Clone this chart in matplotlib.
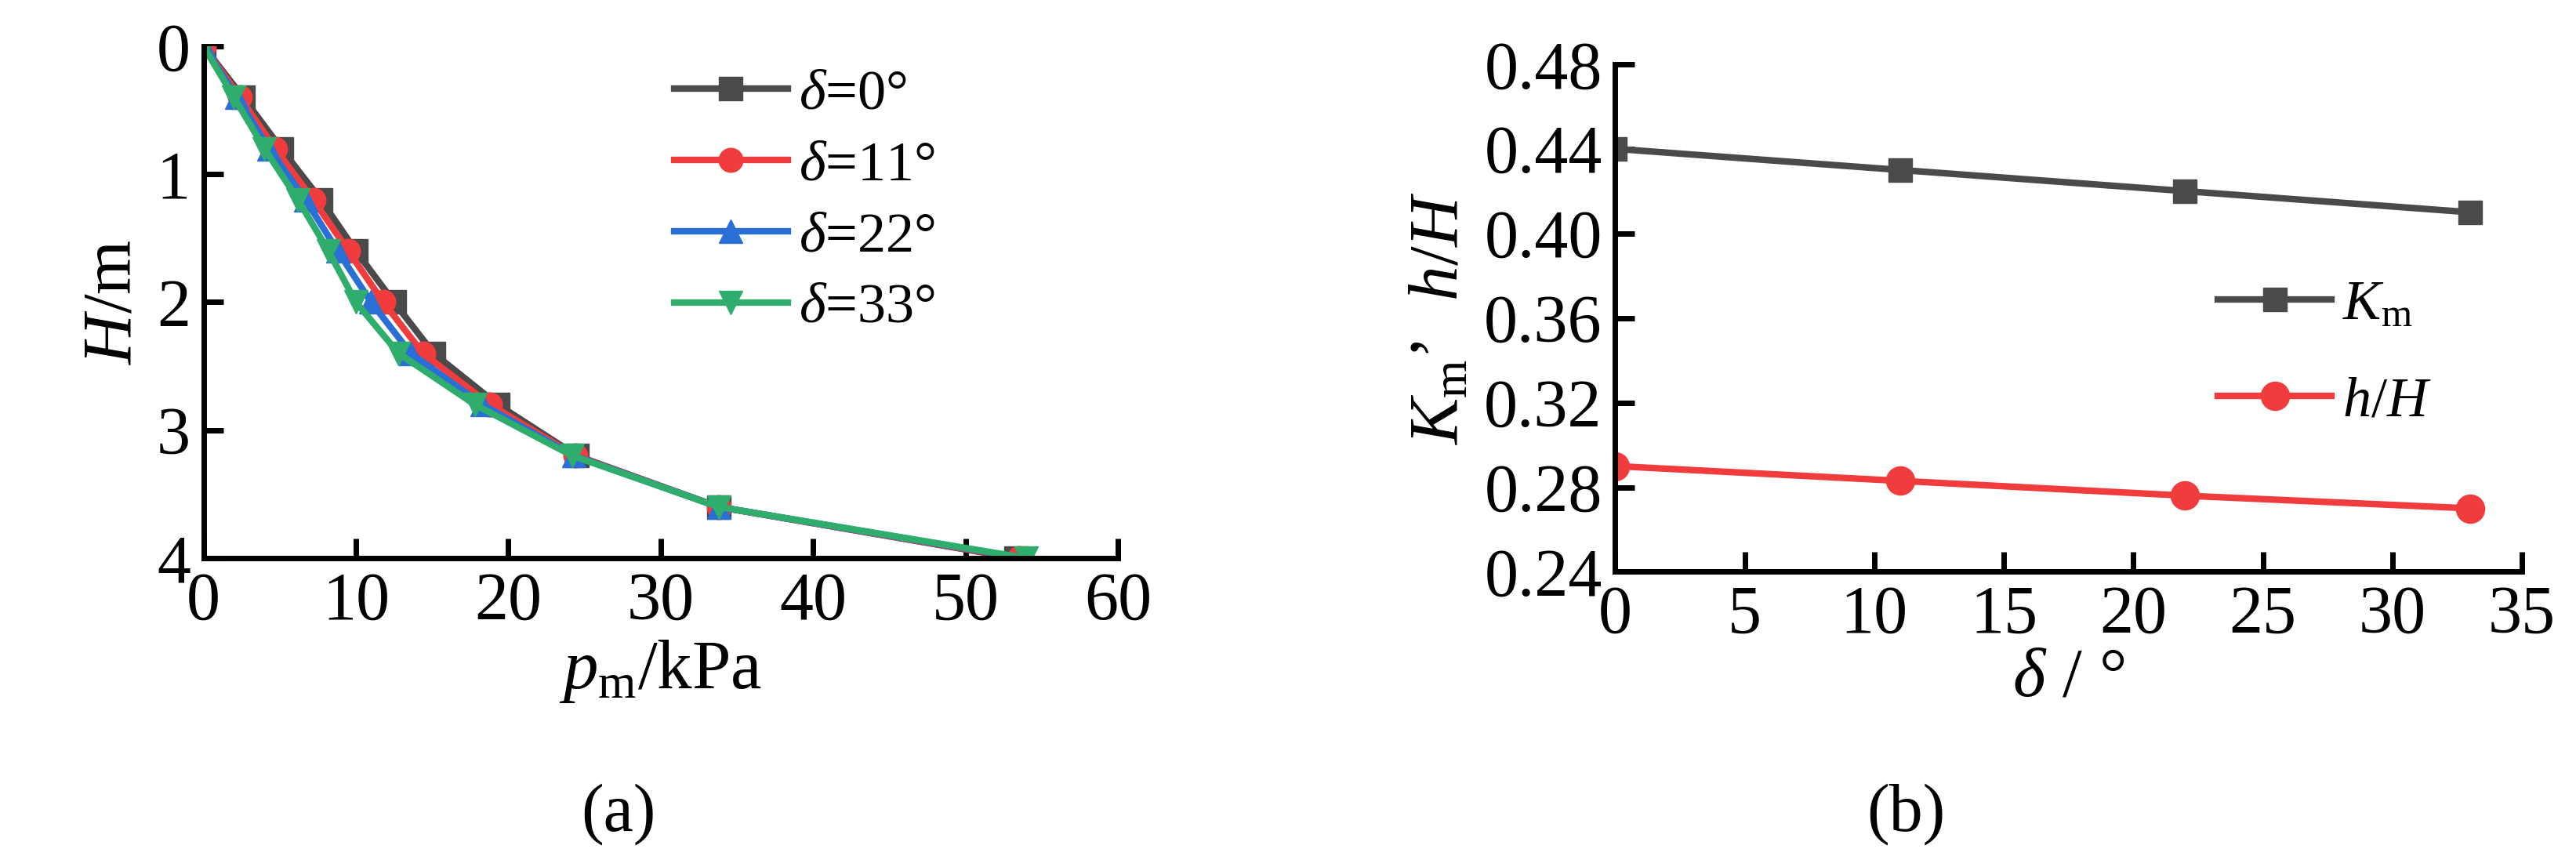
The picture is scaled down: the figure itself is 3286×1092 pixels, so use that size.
import matplotlib
matplotlib.use("Agg")
import matplotlib.pyplot as plt

H = [0, 0.4, 0.8, 1.2, 1.6, 2.0, 2.4, 2.8, 3.2, 3.6, 4.0]
p_d0 = [0, 2.6, 5.1, 7.7, 10.0, 12.5, 15.1, 19.3, 24.5, 33.8, 53.3]
p_d11 = [0, 2.4, 4.7, 7.2, 9.5, 11.8, 14.4, 18.8, 24.4, 33.8, 53.5]
p_d22 = [0, 2.2, 4.3, 6.7, 8.8, 11.0, 13.6, 18.3, 24.3, 33.8, 53.8]
p_d33 = [0, 2.0, 4.0, 6.2, 8.2, 10.0, 12.8, 17.8, 24.2, 33.8, 54.0]
labels_a = ["0°", "11°", "22°", "33°"]

delta = [0, 11, 22, 33]
Km = [0.44, 0.43, 0.42, 0.41]
hH = [0.29, 0.283, 0.276, 0.27]

plt.rcParams['font.family'] = ['Liberation Serif', 'DejaVu Serif']
plt.rcParams['mathtext.fontset'] = 'custom'
plt.rcParams['mathtext.it'] = 'Liberation Serif:italic'
plt.rcParams['mathtext.rm'] = 'Liberation Serif'

fig = plt.figure(figsize=(32.86, 10.92), dpi=100)
fs = 62
lw = 6
ms = 22

ax = fig.add_axes([0.079, 0.348, 0.355, 0.598])
cols = ['#4a4a4a', '#f03c3c', '#2a6fd6', '#2fad6c']
marks = ['s', 'o', '^', 'v']
for p, c, m, l in zip([p_d0, p_d11, p_d22, p_d33], cols, marks, labels_a):
    ax.plot(p, H, color=c, marker=m, lw=lw, ms=ms, label=r'$\delta$=' + l)
ax.set_xlim(0, 60)
ax.set_ylim(4, 0)
ax.set_xticks(range(0, 61, 10))
ax.set_yticks([0, 1, 2, 3, 4])
for s in ['top', 'right']:
    ax.spines[s].set_visible(False)
for s in ['left', 'bottom']:
    ax.spines[s].set_linewidth(5)
ax.tick_params(direction='in', length=18, width=5, labelsize=fs, pad=12)
ax.set_xlabel(r'$p_{\rm m}$/kPa', fontsize=fs + 2, labelpad=4)
ax.set_ylabel(r'$H$/m', fontsize=fs + 2, labelpad=10)
ax.legend(loc='upper left', bbox_to_anchor=(0.49, 1.0), frameon=False, fontsize=fs - 10,
          handlelength=2.0, labelspacing=0.35, handletextpad=0.2, borderaxespad=0)
fig.text(0.24, 0.03, '(a)', fontsize=fs, ha='center')

bx = fig.add_axes([0.627, 0.332, 0.352, 0.593])
bx.plot(delta, Km, color='#4a4a4a', marker='s', lw=lw, ms=ms, label=r'$K_{\rm m}$')
bx.plot(delta, hH, color='#f03c3c', marker='o', lw=lw, ms=ms + 4, label=r'$h$/$H$')
bx.set_xlim(0, 35)
bx.set_ylim(0.24, 0.48)
bx.set_xticks(range(0, 36, 5))
yt = [0.24, 0.28, 0.32, 0.36, 0.40, 0.44, 0.48]
bx.set_yticks(yt)
bx.set_yticklabels([f'{v:.2f}' for v in yt])
for s in ['top', 'right']:
    bx.spines[s].set_visible(False)
for s in ['left', 'bottom']:
    bx.spines[s].set_linewidth(5)
bx.tick_params(direction='in', length=18, width=5, labelsize=fs, pad=12)
bx.set_xlabel(r'$\delta$ / °', fontsize=fs + 2, labelpad=0)
bx.set_ylabel(r"$K_{\rm m}$’  $h$/$H$", fontsize=fs + 2, labelpad=10)
bx.legend(loc='upper left', bbox_to_anchor=(0.64, 0.62), frameon=False, fontsize=fs - 10,
          handlelength=2.0, labelspacing=0.8, handletextpad=0.2, borderaxespad=0)
fig.text(0.74, 0.03, '(b)', fontsize=fs, ha='center')

fig.savefig('out.png', dpi=100)
